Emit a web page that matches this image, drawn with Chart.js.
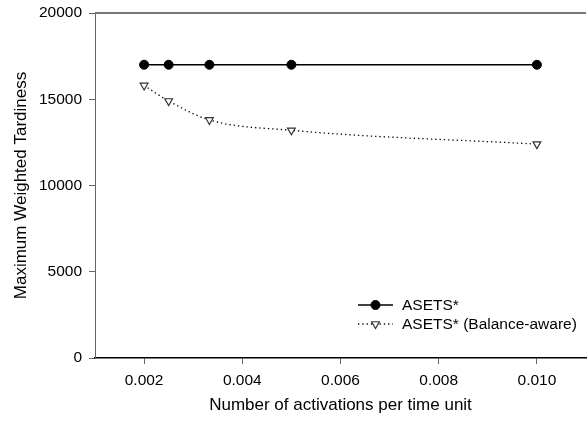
<!DOCTYPE html>
<html>
<head>
<meta charset="utf-8">
<script src="https://cdn.jsdelivr.net/npm/chart.js@4"></script>
<style>
  html, body { margin: 0; padding: 0; background: #fff; overflow: hidden; }
  #wrap { position: absolute; left: 0; top: 0; width: 587px; height: 421px; }
</style>
</head>
<body>
<div id="wrap"><canvas id="chart"></canvas></div>
<script>
// data
const activations = [0.002, 0.0025, 0.00333, 0.005, 0.010];
const asets = [17000, 17000, 17000, 17000, 17000];
const asetsBalance = [15800, 14900, 13800, 13200, 12400];
const xTicks = [0.002, 0.004, 0.006, 0.008, 0.010];
const yTicks = [0, 5000, 10000, 15000, 20000];

const font = "'Liberation Sans', Arial, Helvetica, sans-serif";

// legend drawn inside the plot, bottom right, plus the top frame line
const insideLegend = {
  id: 'insideLegend',
  afterDraw(chart) {
    const ctx = chart.ctx;
    const ca = chart.chartArea;
    ctx.save();
    ctx.strokeStyle = '#777';
    ctx.lineWidth = 2;
    ctx.beginPath();
    ctx.moveTo(ca.left, ca.top);
    ctx.lineTo(ca.right, ca.top);
    ctx.stroke();

    const x0 = 358, x1 = 393, xm = 375.5, xt = 402;
    const rows = [305, 324];
    chart.data.datasets.forEach((ds, i) => {
      const y = rows[i];
      ctx.strokeStyle = '#000';
      ctx.lineWidth = ds.borderWidth;
      ctx.setLineDash(ds.borderDash || []);
      ctx.beginPath();
      ctx.moveTo(x0, y);
      ctx.lineTo(x1, y);
      ctx.stroke();
      ctx.setLineDash([]);
      ctx.fillStyle = ds.pointBackgroundColor;
      ctx.strokeStyle = ds.pointBorderColor;
      ctx.lineWidth = ds.pointBorderWidth;
      Chart.helpers.drawPoint(ctx, {
        pointStyle: ds.pointStyle,
        rotation: ds.pointRotation || 0,
        radius: ds.pointRadius,
        borderWidth: ds.pointBorderWidth
      }, xm, y);
      ctx.fillStyle = '#000';
      ctx.font = '15.5px ' + font;
      ctx.textBaseline = 'middle';
      ctx.textAlign = 'left';
      ctx.fillText(ds.label, xt, y + 1);
    });
    ctx.restore();
  }
};

const noPad = s => { s.paddingLeft = 0; s.paddingRight = 0; s.paddingTop = 0; s.paddingBottom = 0; };

new Chart(document.getElementById('chart'), {
  type: 'line',
  data: {
    datasets: [{
      label: 'ASETS*',
      data: activations.map((x, i) => ({ x: x, y: asets[i] })),
      borderColor: '#000',
      borderWidth: 1.5,
      pointStyle: 'circle',
      pointRadius: 4.5,
      pointBackgroundColor: '#000',
      pointBorderColor: '#000',
      pointBorderWidth: 1
    }, {
      label: 'ASETS* (Balance-aware)',
      data: activations.map((x, i) => ({ x: x, y: asetsBalance[i] })),
      borderColor: '#000',
      borderWidth: 1.3,
      borderDash: [1.3, 3],
      cubicInterpolationMode: 'monotone',
      pointStyle: 'triangle',
      pointRotation: 180,
      pointRadius: 4.5,
      pointBackgroundColor: '#fff',
      pointBorderColor: '#333',
      pointBorderWidth: 1.2
    }]
  },
  options: {
    responsive: true,
    maintainAspectRatio: false,
    animation: false,
    layout: { autoPadding: false, padding: { top: 13, right: 1, left: 0, bottom: 0 } },
    plugins: {
      legend: { display: false },
      tooltip: { enabled: false }
    },
    scales: {
      x: {
        type: 'linear',
        min: 0.001,
        max: 0.011,
        afterBuildTicks: s => { s.ticks = xTicks.map(v => ({ value: v })); },
        afterFit: s => { s.height = 63; noPad(s); },
        border: { display: true, color: '#000', width: 1.5 },
        grid: { drawOnChartArea: false, drawTicks: true, tickLength: 6, color: '#666' },
        ticks: {
          color: '#000',
          padding: 7,
          font: { family: font, size: 15.5 },
          callback: v => v.toFixed(3)
        },
        title: {
          display: true,
          text: 'Number of activations per time unit',
          color: '#000',
          font: { family: font, size: 17 },
          padding: { top: 5, bottom: 5 }
        }
      },
      y: {
        min: 0,
        max: 20000,
        afterBuildTicks: s => { s.ticks = yTicks.map(v => ({ value: v })); },
        afterFit: s => { s.width = 95; noPad(s); },
        border: { display: true, color: '#666', width: 1 },
        grid: { drawOnChartArea: false, drawTicks: true, tickLength: 6, color: '#666' },
        ticks: {
          color: '#000',
          padding: 7,
          font: { family: font, size: 15.5 },
          callback: v => String(v)
        },
        title: {
          display: true,
          text: 'Maximum Weighted Tardiness',
          color: '#000',
          font: { family: font, size: 17 },
          padding: { top: 11, bottom: 0 }
        }
      }
    }
  },
  plugins: [insideLegend]
});
</script>
</body>
</html>
